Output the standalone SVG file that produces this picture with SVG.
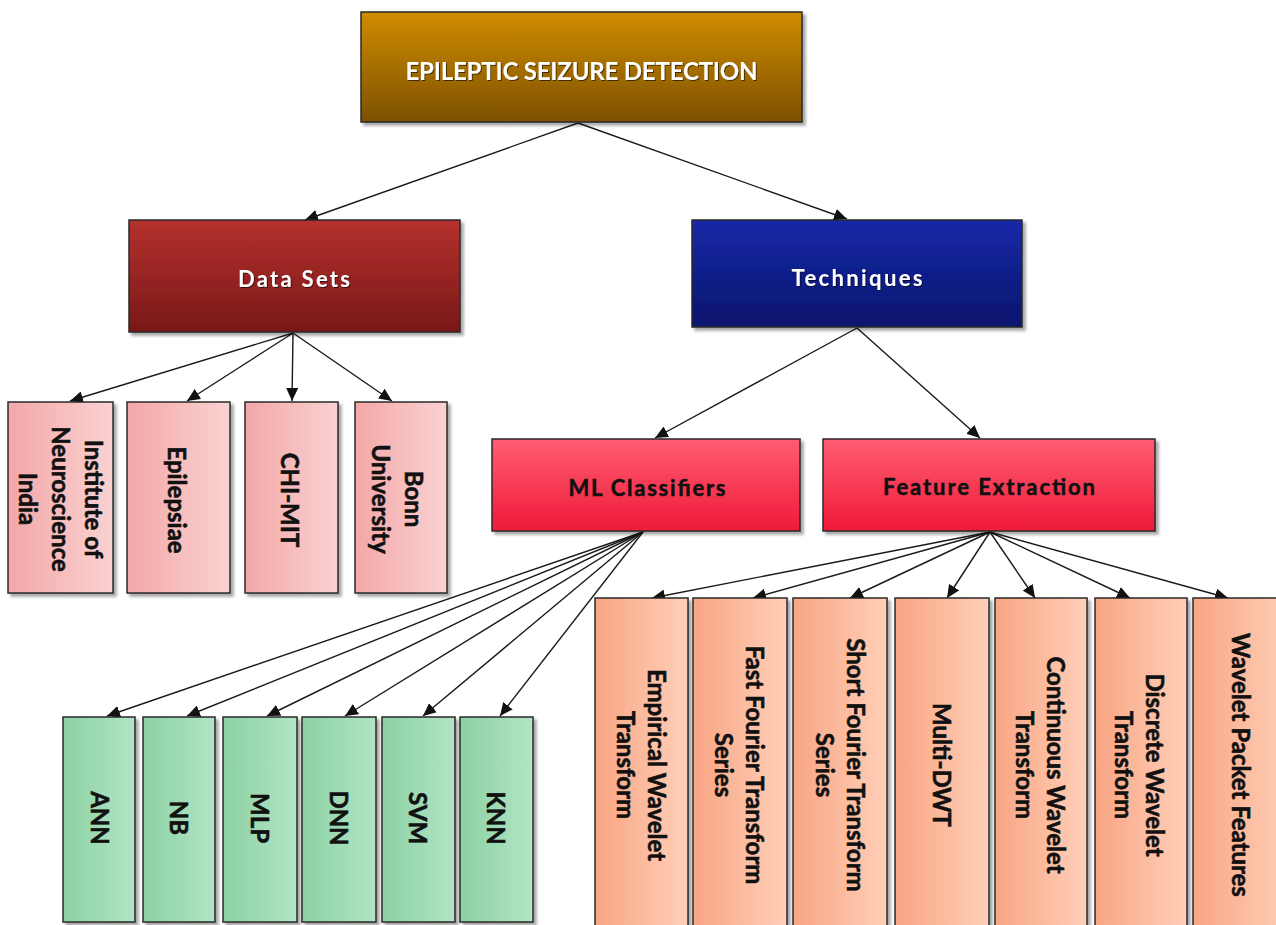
<svg xmlns="http://www.w3.org/2000/svg" width="1276" height="925" viewBox="0 0 1276 925">
<defs>
<linearGradient id="gTop" x1="0" y1="0" x2="0" y2="1"><stop offset="0" stop-color="#D08C00"/><stop offset="1" stop-color="#7C5100"/></linearGradient>
<linearGradient id="gData" x1="0" y1="0" x2="0" y2="1"><stop offset="0" stop-color="#B5312E"/><stop offset="1" stop-color="#781817"/></linearGradient>
<linearGradient id="gTech" x1="0" y1="0" x2="0" y2="1"><stop offset="0" stop-color="#1629A8"/><stop offset="1" stop-color="#0A156C"/></linearGradient>
<linearGradient id="gRed" x1="0" y1="0" x2="0" y2="1"><stop offset="0" stop-color="#FF5C72"/><stop offset="1" stop-color="#EF1A38"/></linearGradient>
<linearGradient id="gPink" x1="0" y1="0" x2="1" y2="0"><stop offset="0" stop-color="#F3A7A8"/><stop offset="1" stop-color="#FAD2D1"/></linearGradient>
<linearGradient id="gGreen" x1="0" y1="0" x2="1" y2="0"><stop offset="0" stop-color="#8BD1A4"/><stop offset="1" stop-color="#B3E4C5"/></linearGradient>
<linearGradient id="gOrange" x1="0" y1="0" x2="1" y2="0"><stop offset="0" stop-color="#F8A584"/><stop offset="1" stop-color="#FFCFB7"/></linearGradient>
<filter id="sh" x="-10%" y="-10%" width="130%" height="130%"><feDropShadow dx="3" dy="3" stdDeviation="1.5" flood-color="#000" flood-opacity="0.35"/></filter>
<filter id="ts" x="-10%" y="-30%" width="120%" height="160%"><feDropShadow dx="1" dy="1" stdDeviation="0.6" flood-color="#000" flood-opacity="0.6"/></filter>
<marker id="arr" markerUnits="userSpaceOnUse" markerWidth="14" markerHeight="12" viewBox="0 0 14 12" refX="13" refY="6" orient="auto"><path d="M0,0 L13,6 L0,12 Z" fill="#111"/></marker>
</defs>
<style>
.box{stroke:#2a2a2a;stroke-width:1.5;filter:url(#sh)}
.hw{font-family:Lato,"Open Sans",sans-serif;font-weight:bold;fill:#fff;text-anchor:middle;dominant-baseline:central;filter:url(#ts)}
.hb{font-family:Lato,"Open Sans",sans-serif;font-weight:bold;fill:#111;stroke:#111;stroke-width:0.5;text-anchor:middle;dominant-baseline:central}
.v{font-family:Lato,"Open Sans",sans-serif;font-weight:bold;fill:#111;stroke:#111;stroke-width:0.6;font-size:24px;text-anchor:middle;dominant-baseline:central}
.c{stroke:#1a1a1a;stroke-width:1.4;fill:none;marker-end:url(#arr)}
</style>
<rect width="1276" height="925" fill="#fff"/>

<g id="connectors">
<line class="c" x1="578" y1="123" x2="305" y2="220"/>
<line class="c" x1="578" y1="123" x2="847" y2="219"/>
<line class="c" x1="293" y1="333" x2="70" y2="401"/>
<line class="c" x1="293" y1="333" x2="187" y2="401"/>
<line class="c" x1="293" y1="333" x2="292" y2="401"/>
<line class="c" x1="293" y1="333" x2="392" y2="401"/>
<line class="c" x1="857" y1="328" x2="655" y2="438"/>
<line class="c" x1="857" y1="328" x2="980" y2="438"/>
<line class="c" x1="643" y1="532" x2="107" y2="716"/>
<line class="c" x1="643" y1="532" x2="187" y2="716"/>
<line class="c" x1="643" y1="532" x2="267" y2="716"/>
<line class="c" x1="643" y1="532" x2="345" y2="716"/>
<line class="c" x1="643" y1="532" x2="423" y2="716"/>
<line class="c" x1="643" y1="532" x2="500" y2="716"/>
<line class="c" x1="990" y1="532" x2="652" y2="598"/>
<line class="c" x1="990" y1="532" x2="753" y2="598"/>
<line class="c" x1="990" y1="532" x2="850" y2="598"/>
<line class="c" x1="990" y1="532" x2="947" y2="598"/>
<line class="c" x1="990" y1="532" x2="1035" y2="598"/>
<line class="c" x1="990" y1="532" x2="1130" y2="598"/>
<line class="c" x1="990" y1="532" x2="1228" y2="598"/>
</g>

<g id="n-root"><rect class="box" x="361" y="12" width="441" height="110" fill="url(#gTop)"/>
<text class="hw" x="581.5" y="70" font-size="24" textLength="352">EPILEPTIC SEIZURE DETECTION</text></g>

<g id="n-datasets"><rect class="box" x="129" y="220" width="331" height="112" fill="url(#gData)"/>
<text class="hw" x="294" y="278" font-size="22" textLength="112">Data Sets</text></g>

<g id="n-techniques"><rect class="box" x="692" y="220" width="330" height="107" fill="url(#gTech)"/>
<text class="hw" x="857" y="277" font-size="22" textLength="131">Techniques</text></g>

<g id="n-ml"><rect class="box" x="492" y="439" width="308" height="92" fill="url(#gRed)"/>
<text class="hb" x="647" y="487" font-size="22" textLength="157">ML Classifiers</text></g>

<g id="n-fe"><rect class="box" x="823" y="439" width="332" height="92" fill="url(#gRed)"/>
<text class="hb" x="989" y="486" font-size="22" textLength="212">Feature Extraction</text></g>

<g id="n-ins"><rect class="box" x="8" y="402" width="105" height="191" fill="url(#gPink)"/>
<g transform="translate(61,499) rotate(90)"><text class="v" x="0" y="-33">Institute of</text><text class="v" x="0" y="0">Neuroscience</text><text class="v" x="0" y="33">India</text></g></g>

<g id="n-epi"><rect class="box" x="127" y="402" width="103" height="191" fill="url(#gPink)"/>
<g transform="translate(177,500) rotate(90)"><text class="v" x="0" y="0">Epilepsiae</text></g></g>

<g id="n-chb"><rect class="box" x="245" y="402" width="93" height="191" fill="url(#gPink)"/>
<g transform="translate(290,500) rotate(90)"><text class="v" x="0" y="0">CHI-MIT</text></g></g>

<g id="n-bonn"><rect class="box" x="355" y="402" width="92" height="191" fill="url(#gPink)"/>
<g transform="translate(398,499) rotate(90)"><text class="v" x="0" y="-16.5">Bonn</text><text class="v" x="0" y="16.5">University</text></g></g>

<g id="n-ann"><rect class="box" x="63" y="717" width="72" height="205" fill="url(#gGreen)"/>
<g transform="translate(100,818) rotate(90)"><text class="v" x="0" y="0">ANN</text></g></g>
<g id="n-nb"><rect class="box" x="143" y="717" width="72" height="205" fill="url(#gGreen)"/>
<g transform="translate(179,818) rotate(90)"><text class="v" x="0" y="0">NB</text></g></g>
<g id="n-mlp"><rect class="box" x="223" y="717" width="74" height="205" fill="url(#gGreen)"/>
<g transform="translate(260,818) rotate(90)"><text class="v" x="0" y="0">MLP</text></g></g>
<g id="n-dnn"><rect class="box" x="302" y="717" width="74" height="205" fill="url(#gGreen)"/>
<g transform="translate(339,818) rotate(90)"><text class="v" x="0" y="0">DNN</text></g></g>
<g id="n-svm"><rect class="box" x="382" y="717" width="73" height="205" fill="url(#gGreen)"/>
<g transform="translate(418,818) rotate(90)"><text class="v" x="0" y="0">SVM</text></g></g>
<g id="n-knn"><rect class="box" x="460" y="717" width="73" height="205" fill="url(#gGreen)"/>
<g transform="translate(496,818) rotate(90)"><text class="v" x="0" y="0">KNN</text></g></g>

<g id="n-ewt"><rect class="box" x="595" y="598" width="93" height="340" fill="url(#gOrange)"/>
<g transform="translate(642,765) rotate(90)"><text class="v" x="0" y="-15.5">Empirical Wavelet</text><text class="v" x="0" y="15.5">Transform</text></g></g>
<g id="n-fft"><rect class="box" x="693" y="598" width="94" height="340" fill="url(#gOrange)"/>
<g transform="translate(740,765) rotate(90)"><text class="v" x="0" y="-15.5">Fast Fourier Transform</text><text class="v" x="0" y="15.5">Series</text></g></g>
<g id="n-stft"><rect class="box" x="793" y="598" width="94" height="340" fill="url(#gOrange)"/>
<g transform="translate(841,765) rotate(90)"><text class="v" x="0" y="-15.5">Short Fourier Transform</text><text class="v" x="0" y="15.5">Series</text></g></g>
<g id="n-mdwt"><rect class="box" x="895" y="598" width="94" height="340" fill="url(#gOrange)"/>
<g transform="translate(942,765) rotate(90)"><text class="v" x="0" y="0">Multi-DWT</text></g></g>
<g id="n-cwt"><rect class="box" x="995" y="598" width="92" height="340" fill="url(#gOrange)"/>
<g transform="translate(1041,765) rotate(90)"><text class="v" x="0" y="-15.5">Continuous Wavelet</text><text class="v" x="0" y="15.5">Transform</text></g></g>
<g id="n-dwt"><rect class="box" x="1095" y="598" width="92" height="340" fill="url(#gOrange)"/>
<g transform="translate(1140,765) rotate(90)"><text class="v" x="0" y="-15.5">Discrete Wavelet</text><text class="v" x="0" y="15.5">Transform</text></g></g>
<g id="n-wpf"><rect class="box" x="1193" y="598" width="96" height="340" fill="url(#gOrange)"/>
<g transform="translate(1241,765) rotate(90)"><text class="v" x="0" y="0">Wavelet Packet Features</text></g></g>
</svg>
